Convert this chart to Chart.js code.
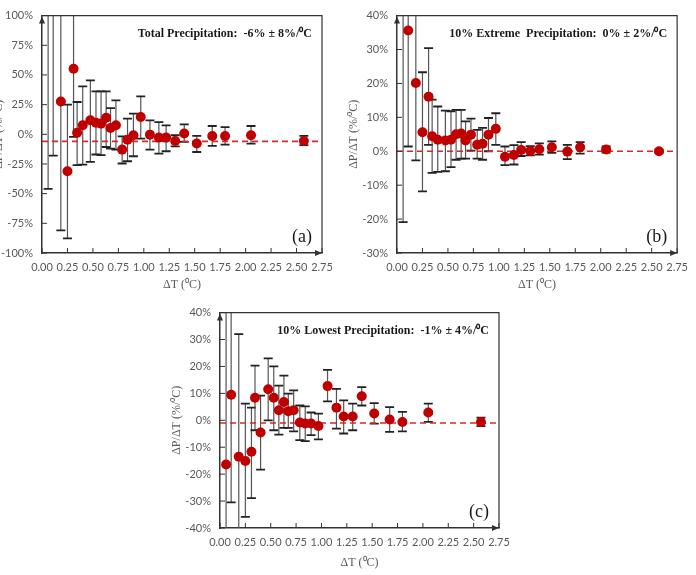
<!DOCTYPE html>
<html>
<head>
<meta charset="utf-8">
<script src="https://cdn.jsdelivr.net/npm/chart.js@4.4.1/dist/chart.umd.min.js"></script>
<style>
  body { margin: 0; background: #fff; width: 696px; height: 575px; overflow: hidden; position: relative; }
  canvas { position: absolute; }
  #chartA { left: -8px; top: 0; }
  #chartB { left: 347px; top: 0; }
  #chartC { left: 170px; top: 297px; }
</style>
</head>
<body>
<canvas id="chartA" width="350" height="300"></canvas>
<canvas id="chartB" width="349" height="300"></canvas>
<canvas id="chartC" width="350" height="278"></canvas>
<script>
// ΔT bins (°C), shared by the three panels
var dT = [0.06, 0.11, 0.185, 0.25, 0.31, 0.345, 0.40, 0.475, 0.53, 0.58, 0.63, 0.673, 0.726, 0.787,
          0.84, 0.898, 0.97, 1.06, 1.148, 1.219, 1.308, 1.397, 1.52, 1.672, 1.798, 2.053, 2.572];

// (a) total precipitation, %/°C  (first two points lie above the plot)
var totalVal = [140, 155, 27.7, -31.1, 55.2, 1.4, 7.6, 11.8, 9.8, 9.0, 14.0, 5.3, 7.6, -12.9,
                -4.5, -0.8, 14.5, -0.3, -2.8, -2.8, -5.6, 0.6, -7.8, -1.4, -1.4, -0.8, -5.6];
var totalLo  = [-46, -18, -81, -87.7, -2.2, -26, -25.5, -23.2, -17, -17.6, -10.7, -12, -12.9, -24.6,
                -22.7, -18.5, -3.6, -12.9, -16.2, -14.3, -10.1, -6.4, -14.9, -9.8, -8.7, -7.8, -9.2];
var totalHi  = [326, 328, 136, 25, 112.6, 27.2, 40.3, 45.4, 36.1, 36.1, 36.1, 22.1, 28.6, -1.7,
                13.2, 17.4, 31.9, 11.8, 10.3, 7.6, -0.8, 8.4, -1.4, 7, 6.1, 7, -1.4];
var totalMean = -6;

// (b) 10% extreme precipitation
var extremeVal = [50, 35.6, 20.1, 5.6, 16.1, 4.4, 3.4, 3.2, 3.4, 5.0, 5.2, 3.2, 4.9, 1.9,
                  2.2, 4.9, 6.6, -1.6, -1.1, 0.4, 0.1, 0.6, 1.2, -0.1, 1.2, 0.5, 0.0];
var extremeLo  = [-20.9, 1.4, -2.7, -11.8, 1.9, -6.4, -6.1, -5.9, -4.7, -2.5, -2.2, -2.2, 0.2, -2.2,
                  -2.5, 0, 1.9, -4.1, -3.9, -1.4, -1.2, -1.0, -0.5, -2.3, -0.7, -0.4, -0.5];
var extremeHi  = [120.9, 69.8, 42.9, 23.3, 30.4, 15.2, 13.2, 12.0, 11.8, 12.2, 12.2, 8.8, 9.6, 6.3,
                  6.9, 9.8, 11.2, 1.4, 1.8, 2.7, 1.5, 2.3, 2.9, 1.9, 2.7, 1.4, 0.5];
var extremeMean = 0;

// (c) 10% lowest precipitation
var lowestVal = [-16.4, 9.5, -13.5, -15.1, -11.7, 8.4, -4.5, 11.5, 8.4, 3.7, 6.8, 3.4, 3.7, -0.8,
                 -1.2, -1.2, -2.1, 12.7, 4.7, 1.4, 1.4, 8.9, 2.5, 0.3, -0.6, 2.9, -0.6];
var lowestLo  = [-76, -30.5, -59, -35.9, -28.9, -3.7, -18.3, 0, -3.7, -5.3, -2.8, -2.8, -4.1, -7.4,
                 -7.7, -5.5, -7.1, 7.0, -3.1, -4.9, -3.7, 5.5, -1.2, -4.3, -4.1, -0.6, -2.2];
var lowestHi  = [43.6, 49.5, 32, 6.2, 4.7, 20.3, 9.2, 23, 20, 12.9, 16.6, 9.9, 11.1, 5.5,
                 5.2, 2.9, 2.5, 18.7, 11.7, 7.4, 6.2, 12.3, 6.4, 4.9, 3.1, 6.2, 1.0];
var lowestMean = -1;

var xMin = 0, xMax = 2.75, xStep = 0.25;

var errorBars = {
  id: 'errorBars',
  beforeDatasetsDraw: function (chart, args, opts) {
    var ctx = chart.ctx, xs = chart.scales.x, ys = chart.scales.y, a = chart.chartArea;
    ctx.save();
    ctx.beginPath();
    ctx.rect(a.left, a.top, a.right - a.left, a.bottom - a.top);
    ctx.clip();
    opts.lo.forEach(function (lo, i) {
      var px = xs.getPixelForValue(dT[i]);
      var top = ys.getPixelForValue(opts.hi[i]);
      var bot = ys.getPixelForValue(lo);
      ctx.strokeStyle = '#555';
      ctx.lineWidth = 1.2;
      ctx.beginPath();
      ctx.moveTo(px, top);
      ctx.lineTo(px, bot);
      ctx.stroke();
      ctx.strokeStyle = '#222';
      ctx.lineWidth = 1.8;
      ctx.beginPath();
      ctx.moveTo(px - 4.5, top); ctx.lineTo(px + 4.5, top);
      ctx.moveTo(px - 4.5, bot); ctx.lineTo(px + 4.5, bot);
      ctx.stroke();
    });
    ctx.restore();
  }
};

var panelDecor = {
  id: 'panelDecor',
  afterDraw: function (chart, args, opts) {
    var ctx = chart.ctx, a = chart.chartArea, xs = chart.scales.x, ys = chart.scales.y;
    ctx.save();
    // frame
    ctx.strokeStyle = '#333';
    ctx.lineWidth = 1.2;
    ctx.beginPath();
    ctx.moveTo(a.left, a.top); ctx.lineTo(a.right, a.top); ctx.lineTo(a.right, a.bottom);
    ctx.stroke();
    // inner ticks
    ctx.lineWidth = 1;
    ctx.beginPath();
    xs.ticks.forEach(function (t) {
      var px = xs.getPixelForValue(t.value);
      ctx.moveTo(px, a.bottom); ctx.lineTo(px, a.bottom - 5);
    });
    ys.ticks.forEach(function (t) {
      var py = ys.getPixelForValue(t.value);
      ctx.moveTo(a.left, py); ctx.lineTo(a.left + 5, py);
    });
    ctx.stroke();
    // arrows
    ctx.fillStyle = '#333';
    ctx.beginPath();
    ctx.moveTo(a.left, a.top + 1); ctx.lineTo(a.left - 3, a.top + 8); ctx.lineTo(a.left + 3, a.top + 8);
    ctx.fill();
    ctx.beginPath();
    ctx.moveTo(a.right, a.bottom); ctx.lineTo(a.right - 7, a.bottom - 3); ctx.lineTo(a.right - 7, a.bottom + 3);
    ctx.fill();
    // texts
    ctx.fillStyle = '#1a1a1a';
    ctx.font = 'bold 12px "Liberation Serif"';
    ctx.textAlign = 'right';
    ctx.textBaseline = 'middle';
    ctx.fillText(opts.title, a.right - 10, a.top + 18);
    ctx.font = '18px "Liberation Serif"';
    ctx.fillText(opts.letter, a.right - 10, a.bottom - 16);
    ctx.restore();
  }
};

function makePanel(id, vals, lo, hi, mean, yMin, yMax, yStep, title, letter, padRight, xHeight, titlePad) {
  var pts = vals.map(function (v, i) { return { x: dT[i], y: v }; });
  return new Chart(document.getElementById(id), {
    type: 'scatter',
    data: {
      datasets: [{
        data: pts,
        pointRadius: 5,
        pointHoverRadius: 5,
        pointBackgroundColor: '#C00000',
        pointBorderWidth: 0
      }, {
        type: 'line',
        data: [{ x: xMin, y: mean }, { x: xMax, y: mean }],
        borderColor: '#D42A2A',
        borderWidth: 1.6,
        borderDash: [6, 4],
        pointRadius: 0
      }]
    },
    options: {
      responsive: false,
      animation: false,
      layout: { padding: { left: 0, top: 15, right: padRight, bottom: 0 } },
      plugins: {
        legend: { display: false },
        tooltip: { enabled: false },
        errorBars: { lo: lo, hi: hi },
        panelDecor: { title: title, letter: letter }
      },
      scales: {
        x: {
          type: 'linear',
          min: xMin,
          max: xMax,
          afterFit: function (s) { s.height = xHeight; },
          grid: { display: false, drawTicks: false },
          border: { display: true, color: '#333', width: 1.5 },
          ticks: {
            stepSize: xStep,
            autoSkip: false,
            maxRotation: 0,
            padding: 8,
            color: '#595959',
            font: { family: 'Lato', size: 11 },
            callback: function (v) { return v.toFixed(2); }
          },
          title: {
            display: true,
            text: 'ΔT (⁰C)',
            color: '#595959',
            font: { family: 'Liberation Serif', size: 12 },
            padding: { top: 0, bottom: titlePad }
          }
        },
        y: {
          min: yMin,
          max: yMax,
          afterFit: function (s) { s.width = 50; },
          grid: { display: false, drawTicks: false },
          border: { display: true, color: '#333', width: 1.5 },
          ticks: {
            stepSize: yStep,
            padding: 9,
            color: '#595959',
            font: { family: 'Lato', size: 11 },
            callback: function (v) { return v + '%'; }
          },
          title: {
            display: true,
            text: 'ΔP/ΔT (%/⁰C)',
            color: '#595959',
            font: { family: 'Liberation Serif', size: 12 },
            padding: 0
          }
        }
      }
    },
    plugins: [errorBars, panelDecor]
  });
}

makePanel('chartA', totalVal, totalLo, totalHi, totalMean, -100, 100, 25,
  'Total Precipitation:  -6% ± 8%/⁰C', '(a)', 20, 47, 8);
makePanel('chartB', extremeVal, extremeLo, extremeHi, extremeMean, -30, 40, 10,
  '10% Extreme  Precipitation:  0% ± 2%/⁰C', '(b)', 15, 47, 8);
makePanel('chartC', lowestVal, lowestLo, lowestHi, lowestMean, -40, 40, 10,
  '10% Lowest Precipitation:  -1% ± 4%/⁰C', '(c)', 21, 47, 5);
</script>
</body>
</html>
